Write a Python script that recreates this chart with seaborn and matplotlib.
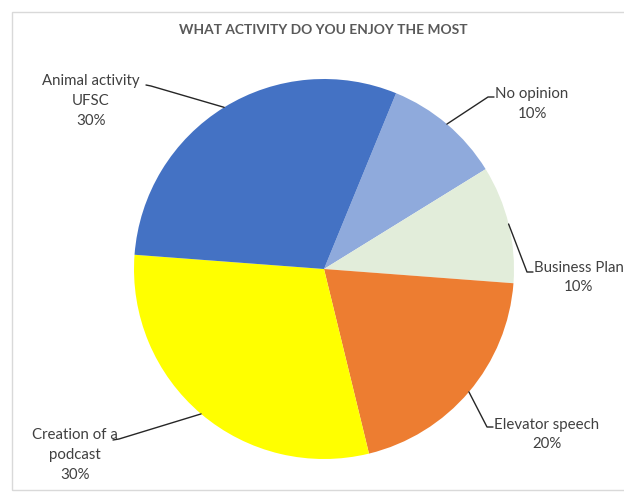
import numpy as np
import matplotlib
matplotlib.use("Agg")
import matplotlib.pyplot as plt
from matplotlib.lines import Line2D
from matplotlib.patches import Rectangle
from matplotlib.transforms import IdentityTransform
import seaborn as sns

# Survey answers, in clockwise drawing order
activities = ["No opinion", "Business Plan", "Elevator speech",
              "Creation of a podcast", "Animal activity UFSC"]
shares = [10, 10, 20, 30, 30]
label_text = ["No opinion\n10%", "Business Plan\n10%", "Elevator speech\n20%",
              "Creation of a\npodcast\n30%", "Animal activity\nUFSC\n30%"]
slice_colors = ["#8FAADC", "#E2EDDA", "#ED7D31", "#FFFF00", "#4472C4"]
title = "WHAT ACTIVITY DO YOU ENJOY THE MOST"

sns.set_theme(style="white")
plt.rcParams["font.family"] = ["Lato", "DejaVu Sans"]

W, H = 624, 493
LABEL_SIZE = 10.8
fig = plt.figure(figsize=(W / 100, H / 100), dpi=100)
fig.patch.set_facecolor("white")

# chart frame
fig.add_artist(Rectangle((12, 3), 700, H - 15, transform=IdentityTransform(),
                         fill=False, edgecolor="#D9D9D9", lw=1.0))

# pie area: centre (324, 269) px from top, radius 190 px
cx, cy, r = 324, 269, 190
ax = fig.add_axes([(cx - r) / W, (H - cy - r) / H, 2 * r / W, 2 * r / H])
ax.axis("off")

wedges, _ = ax.pie(shares, colors=slice_colors, startangle=67.7,
                   counterclock=False, radius=1.0,
                   wedgeprops=dict(linewidth=0))
ax.set_xlim(-1, 1)
ax.set_ylim(-1, 1)

fig.text(0.5175, 1 - 30 / H, title, ha="center", va="center",
         fontsize=9.9, fontweight="bold", color="#595959")

# label placement (pixels from top-left): text anchor, alignment, leader elbow
placements = {
    "No opinion": dict(xy=(532, 104), ha="center", elbow=[(488, 97), (494, 97)]),
    "Business Plan": dict(xy=(534, 277), ha="left", elbow=[(527, 272), (533, 272)]),
    "Elevator speech": dict(xy=(494, 434), ha="left", elbow=[(487, 427), (493, 427)]),
    "Creation of a podcast": dict(xy=(75, 455), ha="center", elbow=[(119, 439), (113, 440)]),
    "Animal activity UFSC": dict(xy=(91, 101), ha="center", elbow=[(151, 86), (146, 85)]),
}

for w, name, txt in zip(wedges, activities, label_text):
    p = placements[name]
    mid = np.deg2rad((w.theta1 + w.theta2) / 2)
    sx, sy = ax.transData.transform((np.cos(mid), np.sin(mid)))
    pts = [(sx, sy)] + [(x, H - y) for x, y in p["elbow"]]
    xs, ys = zip(*pts)
    fig.add_artist(Line2D(xs, ys, transform=IdentityTransform(),
                          color="#262626", lw=1.0))
    tx, ty = p["xy"]
    lines = txt.split("\n")
    if p["ha"] == "left":
        first = fig.text(tx / W, 1 - (ty - 9.5) / H, lines[0], ha="left",
                         va="center", fontsize=LABEL_SIZE, color="#404040")
        # second line sits centred under the first
        fig.canvas.draw()
        bb = first.get_window_extent()
        fig.text((bb.x0 + bb.x1) / 2 / W, 1 - (ty + 10) / H, lines[1],
                 ha="center", va="center", fontsize=LABEL_SIZE, color="#404040")
    else:
        n = len(lines)
        for i, line in enumerate(lines):
            y = ty + (i - (n - 1) / 2) * (20.3 if n == 3 else 19.5)
            fig.text(tx / W, 1 - y / H, line, ha="center", va="center",
                     fontsize=LABEL_SIZE, color="#404040")

fig.savefig("out.png", dpi=100, facecolor="white")
